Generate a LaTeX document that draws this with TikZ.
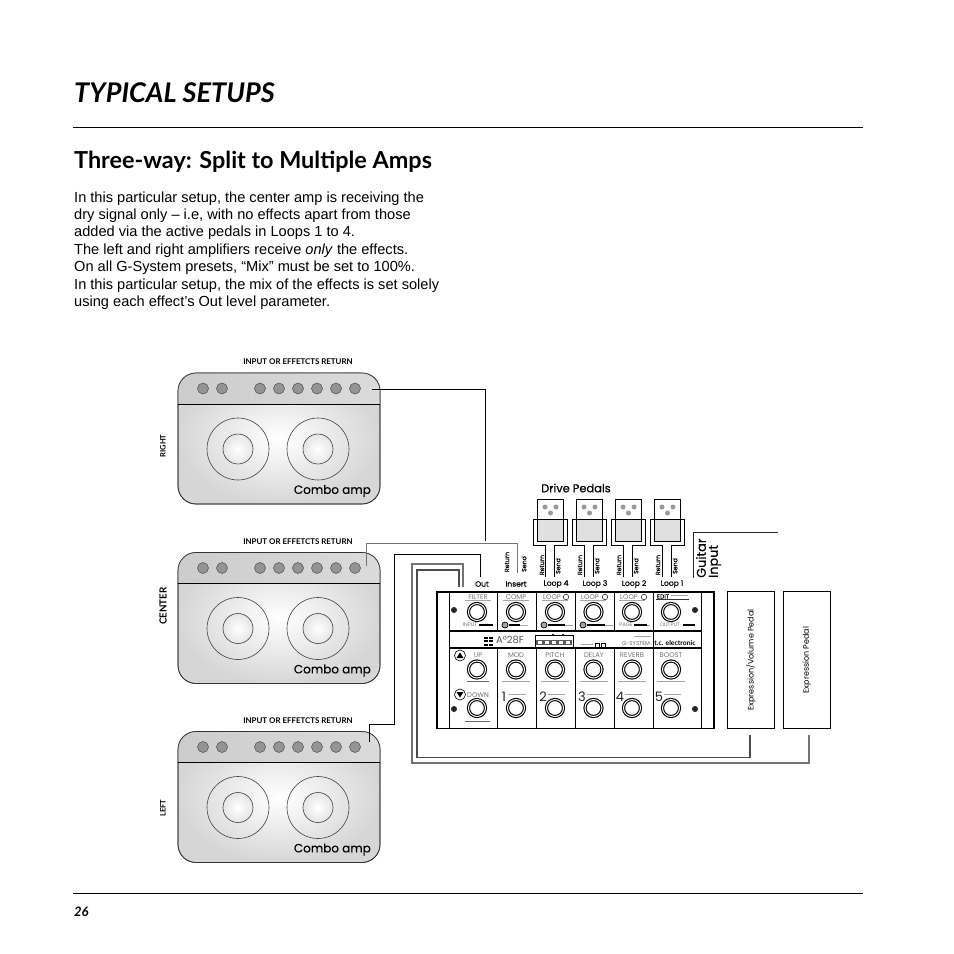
\documentclass[tikz,border=0pt]{standalone}
\usepackage{fontspec}
\setmainfont{Liberation Sans}
\newfontfamily\gill{Lato}
\newfontfamily\agf{Poppins}
\newfontfamily\agb[FakeBold=0.25]{Poppins}
\newfontfamily\agm[FakeBold=0.1]{Poppins}
\tikzset{
  wire/.style={draw=black,line width=.8pt},
  graywire/.style={draw=black!55,line width=1.1pt},
  blkwire/.style={draw=black,line width=1pt},
  ampbody/.style={draw=black!80,line width=.7pt,rounded corners=18pt,minimum width=202pt,minimum height=131pt,inner sep=0pt,inner color=white,outer color=black!16},
  spk/.style={circle,draw=black!75,line width=.6pt,minimum size=62pt,inner sep=0pt},
  spkin/.style={circle,draw=black!75,line width=.6pt,minimum size=30pt,inner sep=0pt,inner color=white,outer color=black!10},
  knob/.style={circle,draw=black!70,fill=black!42,line width=.5pt,minimum size=11pt,inner sep=0pt},
  pedtop/.style={draw=black,fill=white,line width=.6pt,minimum width=26pt,minimum height=20pt,inner sep=0pt},
  pedlow/.style={draw=black,fill=black!12,line width=.6pt,minimum width=26pt,minimum height=22pt,inner sep=0pt},
  peddot/.style={circle,fill=black!40,minimum size=5pt,inner sep=0pt},
  sw/.style={circle,draw=black,fill=white,double=white,line width=1.1pt,double distance=1pt,minimum size=17pt,inner sep=0pt},
  hole/.style={circle,fill=black!85,minimum size=6pt,inner sep=0pt},
  rotlbl/.style={rotate=90,inner sep=0pt,font=\agm\fontsize{6.2}{7}\selectfont},
  lblcap/.style={inner sep=0pt,font=\agb\fontsize{7.6}{9}\selectfont},
  gl/.style={inner sep=0pt,text=black!55,font=\agf\fontsize{5.2}{6}\selectfont},
  gt/.style={inner sep=0pt,text=black!55,font=\agf\fontsize{6.8}{8}\selectfont},
  tinymark/.style={draw=black!35,line width=.5pt},
  barline/.style={draw=black,line width=1.3pt},
  dgt/.style={inner sep=0pt,text=black!85,font=\agf\fontsize{13}{14}\selectfont},
  pedalbox/.style={draw=black,line width=.9pt,minimum width=47pt,minimum height=137pt,inner sep=0pt,fill=white},
  pedallbl/.style={rotate=90,inner sep=0pt,font=\agf\fontsize{8}{9}\selectfont},
  ampcap/.style={inner sep=0pt,font=\gill\bfseries\fontsize{7.9}{9}\selectfont},
  combo/.style={inner sep=0pt,font=\agb\fontsize{12}{13}\selectfont},
  sidecap/.style={rotate=90,inner sep=0pt,font=\gill\bfseries\fontsize{7.5}{9}\selectfont}
}
\newcommand{\ampunit}[2]{%
  \begin{scope}[shift={(0,#2)}]
    \node[ampbody] (amp#1) at (279,438.5) {};
    \begin{scope}
      \clip[rounded corners=18pt] (178,373) rectangle (380,504);
      \path[left color=black!20,middle color=black!6,right color=black!14] (178,373) rectangle (380,404);
    \end{scope}
    \draw[draw=black!80,line width=.7pt,rounded corners=18pt] (178,373) rectangle (380,504);
    \draw[line width=.8pt] (178,404) -- (380,404);
    \foreach \x/\n in {203/a,222/b,260/c,279/d,298/e,317/f,336/g,355/h}
      \node[knob] (k#1\n) at (\x,388.5) {};
    \node[spk] (sa#1) at (238,449) {};
    \node[spkin] at (sa#1) {};
    \node[spk] (sb#1) at (318,449) {};
    \node[spkin] at (sb#1) {};
    \node[combo,anchor=east] (cb#1) at (371,491) {Combo amp};
    \node[ampcap] (cap#1) at (298,362) {INPUT OR EFFETCTS RETURN};
  \end{scope}}
\newcommand{\pedalunit}[2]{%
  \begin{scope}[shift={(#2,0)}]
    \node[pedtop] (pt#1) at (550,509) {};
    \node[pedlow] (pl#1) at (550,530) {};
    \node[peddot] at (545,507) {};
    \node[peddot] at (556,507) {};
    \node[peddot] at (550.5,513) {};
    \coordinate (ret#1) at (545,577);
    \coordinate (snd#1) at (554,577);
    \draw[wire] (ret#1) -- (545,545.5) -- (533,545.5) -- (533,519) -- (567,519) -- (567,545.5) -- (554,545.5) -- (snd#1);
  \end{scope}}
\begin{document}
\begin{tikzpicture}[x=1pt,y=-1pt]
\useasboundingbox[fill=white] (0,0) rectangle (954,954);

% page furniture
\node[anchor=base west,inner sep=0pt,font=\gill\bfseries\itshape\fontsize{27.1}{30}\selectfont] (title) at (74,102) {TYPICAL SETUPS};
\coordinate (ra) at (73,127); \coordinate (rb) at (863,127);
\draw[line width=.8pt] (ra) -- (rb);
\node[anchor=base west,inner sep=0pt,font=\gill\bfseries\fontsize{23.4}{26}\selectfont] (sub) at (74,168) {Three-way: Split to Multiple Amps};
\node[anchor=north west,inner sep=0pt,align=left,font=\fontsize{14.6}{17.35}\selectfont] (body) at (74,191.5) {In this particular setup, the center amp is receiving the\\
dry signal only – i.e, with no effects apart from those\\
added via the active pedals in Loops 1 to 4.\\
The left and right amplifiers receive \textit{only} the effects.\\
On all G-System presets, “Mix” must be set to 100\%.\\
In this particular setup, the mix of the effects is set solely\\
using each effect’s Out level parameter.};
\coordinate (fa) at (73,893.5); \coordinate (fb) at (863,893.5);
\draw[line width=.8pt] (fa) -- (fb);
\node[anchor=base west,inner sep=0pt,font=\gill\bfseries\itshape\fontsize{13}{14}\selectfont] (pg) at (74,916) {26};

% amps
\ampunit{R}{0}
\ampunit{C}{179.5}
\ampunit{L}{358.5}
\node[sidecap] (sR) at (163,446) {RIGHT};
\node[rotate=90,inner sep=0pt,font=\gill\bfseries\fontsize{9.8}{12}\selectfont] (sC) at (163,606) {CENTER};
\node[sidecap] (sL) at (163,808) {LEFT};

% drive pedals
\node[lblcap,font=\agb\fontsize{11.4}{13}\selectfont,anchor=west] (dp) at (541,488) {Drive Pedals};
\pedalunit{a}{0}
\pedalunit{b}{39}
\pedalunit{c}{78}
\pedalunit{d}{117}

% loop labels
\node[lblcap] (lOut) at (482,584) {Out};
\node[lblcap] (lIns) at (516,584) {Insert};
\node[lblcap] (l4) at (556,584) {Loop 4};
\node[lblcap] (l3) at (595,584) {Loop 3};
\node[lblcap] (l2) at (634,584) {Loop 2};
\node[lblcap] (l1) at (672,584) {Loop 1};
\foreach \x/\y/\t [count=\i] in {507/562/Return,524/564/Send,542/565/Return,558/566/Send,580/565/Return,597/566/Send,619/565/Return,636/566/Send,658/565/Return,675/566/Send}
  \node[rotlbl] (rs\i) at (\x,\y) {\t};

% guitar input
\node[rotate=90,anchor=west,inner sep=0pt,font=\agb\fontsize{12.8}{14}\selectfont] (gi1) at (701,578) {Guitar};
\node[rotate=90,anchor=west,inner sep=0pt,font=\agb\fontsize{12.8}{14}\selectfont] (gi2) at (715,578) {Input};
\coordinate (giA) at (778,532.5);
\coordinate (giB) at (693.5,578);
\draw[line width=.6pt,black!85] (giA) -- (giA -| giB) -- (giB);

% G-system unit
\node[draw=black,line width=1.5pt,minimum width=277pt,minimum height=136.5pt,inner sep=0pt,anchor=north west] (unit) at (436,591) {};
\draw[line width=.9pt] (449,591) -- (449,728);
\draw[line width=.9pt] (701,591) -- (701,728);
\draw[line width=1.4pt] (449,631) -- (701,631);
\draw[line width=1.4pt] (449,648) -- (701,648);
\foreach \x in {497,536,575,614,653}{
  \draw[line width=.9pt] (\x,591) -- (\x,631);
  \draw[line width=.9pt] (\x,648) -- (\x,728);
}
\draw[line width=.9pt] (653,631) -- (653,648);
\foreach \x [count=\i] in {477,516,555,593.5,632,671}{
  \node[sw] (swa\i) at (\x,612) {};
  \node[sw] (swb\i) at (\x,669.5) {};
  \node[sw] (swc\i) at (\x,708) {};
}
\node[hole] (h1) at (454,610) {};
\node[hole] (h2) at (454,709) {};
\node[hole] (h3) at (695,610) {};
\node[hole] (h4) at (695,709) {};

% upper row labels
\node[gt] (tF) at (478,597) {FILTER};
\node[gt] (tC) at (516,597) {COMP};
\node[gt] (tL1) at (552,597) {LOOP};
\node[gt] (tL2) at (590,597) {LOOP};
\node[gt] (tL3) at (629,597) {LOOP};
\foreach \x in {566,605,644}{
  \node[circle,draw=black!80,line width=.6pt,minimum size=5.5pt,inner sep=0pt] at (\x,597) {};
}
\node[inner sep=0pt,font=\agb\fontsize{6}{7}\selectfont] (tE) at (663,596.5) {EDIT};
\draw[tinymark] (671,595) -- (688,595);
\draw[black!80,line width=.8pt] (656,599.5) -- (689,599.5);
\foreach \a/\b in {462/494,500/532,539/571,577/609,616/648}
  \draw[tinymark,line width=.3pt] (\a+3,600) -- (\b-3,600);
\node[gl] (tI) at (470,625) {INPUT};
\draw[barline] (479,625) -- (493,625);
\node[gl] (tP) at (626,625) {PAGE};
\draw[barline] (634,625) -- (647,625);
\draw[tinymark] (647,625) -- (650,625);
\node[gl] (tO) at (670,625) {OUTPUT};
\draw[barline] (683,625) -- (695,625);
\foreach \x/\e in {505/520,544/565,583/605}{
  \node[circle,draw=black,fill=black!35,line width=.7pt,minimum size=6pt,inner sep=0pt] at (\x,625) {};
  \draw[barline] (\x+4,625) -- (\e,625);
  \draw[tinymark] (\e,625) -- (\e+8,625);
}

% display band
\foreach \x in {484,489.4}
  \foreach \y in {638,641.4,644.8}
    \fill (\x,\y-1) rectangle (\x+4,\y+1);
\node[inner sep=0pt,text=black!65,font=\agf\fontsize{10}{11}\selectfont] (dsp) at (510,640) {A°28F};
\draw[line width=.8pt] (535,635.5) rectangle (573,647);
\fill[black!65] (535.8,640) rectangle (572.2,645);
\foreach \x in {538,545,552,559,566}
  \fill[white] (\x,641) rectangle (\x+3.5,644);
\fill (553,634.5) circle (.9);
\fill (563,634.5) circle (.9);
\draw[tinymark] (581,644.5) -- (593,644.5);
\draw[line width=.9pt] (595,643) rectangle (599,647);
\draw[line width=.9pt] (601,643) rectangle (605,647);
\draw[tinymark] (634,636) -- (651,636);
\node[inner sep=0pt,text=black!60,font=\agf\fontsize{5.6}{6}\selectfont] (gs) at (636,644) {G-SYSTEM};
\node[inner sep=0pt,font=\gill\bfseries\fontsize{6.8}{8}\selectfont] (tc) at (675,643) {t.c. electronic};

% lower row
\node[gt] (bU) at (478,655) {UP};
\node[gt] (bM) at (516,655) {MOD};
\node[gt] (bP) at (555,655) {PITCH};
\node[gt] (bD) at (594,655) {DELAY};
\node[gt] (bR) at (632,655) {REVERB};
\node[gt] (bB) at (671,655) {BOOST};
\node[gt] (bDn) at (478,695) {DOWN};
\node[circle,draw=black,line width=.6pt,minimum size=11pt,inner sep=0pt] (tu) at (460,655.5) {};
\fill (460,652.5) -- (456.5,658) -- (463.5,658) -- cycle;
\node[circle,draw=black,line width=.6pt,minimum size=11pt,inner sep=0pt] (td) at (460,694.5) {};
\fill (460,697.5) -- (456.5,692) -- (463.5,692) -- cycle;
\foreach \x/\n in {504/1,543/2,582/3,620/4,659/5}
  \node[dgt] at (\x,696.5) {\n};
\foreach \x in {509,548,587,625,664}
  \draw[tinymark,line width=.3pt] (\x,694) -- (\x+17,694);
\foreach \x in {516,555,594,632,671}
  \draw[tinymark,line width=.4pt] (\x-14,681.5) -- (\x+14,681.5);
\draw[black!60,line width=.7pt] (467,681.5) -- (489,681.5);
\draw[black!60,line width=.7pt] (465,721) -- (490,721);

% expression pedals
\node[pedalbox,anchor=north west] (ev) at (727,591) {};
\node[pedalbox,anchor=north west] (ex) at (783,591) {};
\node[pedallbl] at (ev) {Expression/Volume Pedal};
\node[pedallbl] at (ex) {Expression Pedal};

% connectors
\coordinate (cR) at (372,389.5);
\coordinate (cRe) at (485.5,541);
\draw[wire] (cR) -- (cR -| cRe) -- (cRe);
\coordinate (cC) at (366,566);
\coordinate (cCe) at (517,573);
\draw[graywire,line width=.9pt] (cC) -- (366,543) -- (517,543) -- (cCe);
\coordinate (cL) at (369,742);
\coordinate (cLe) at (480,577);
\draw[blkwire] (cL) -- (369,724) -- (394,724) -- (394,554) -- (480,554) -- (cLe);
\coordinate (oA) at (463,587);
\coordinate (oB) at (809,735);
\draw[graywire,line width=1.3pt] (oA) -- (463,564) -- (412,564) -- (412,763) -- (809,763) -- (oB);
\coordinate (iA) at (459,587);
\coordinate (iB) at (750,735);
\draw[graywire,line width=1.3pt,draw=black!70] (iA) -- (459,570) -- (417,570) -- (417,757.5) -- (750,757.5) -- (iB);
\end{tikzpicture}
\end{document}
